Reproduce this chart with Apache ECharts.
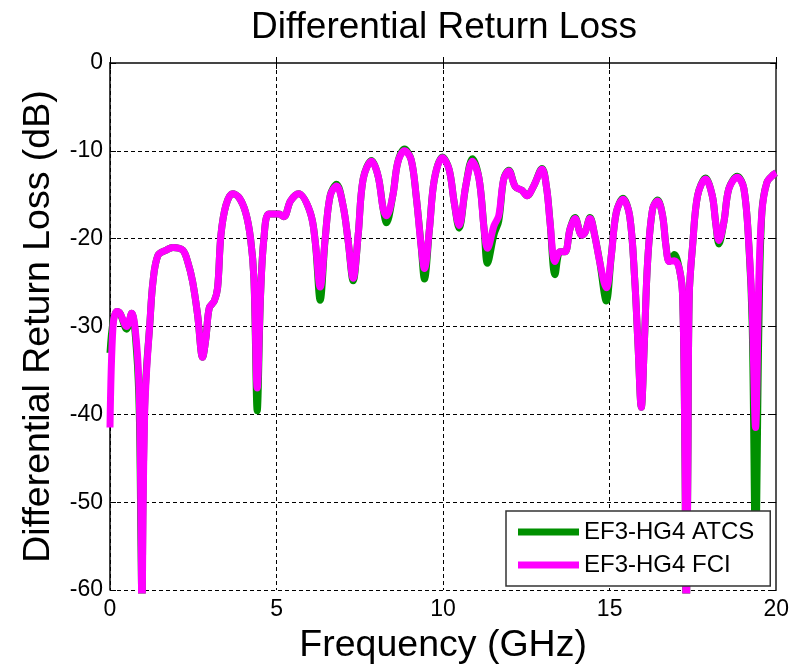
<!DOCTYPE html>
<html>
<head>
<meta charset="utf-8">
<title>Differential Return Loss</title>
<script src="https://cdn.jsdelivr.net/npm/echarts@6/dist/echarts.min.js"></script>
<style>
  html, body { margin: 0; padding: 0; background: #fff; }
  #chart { width: 792px; height: 670px; }
</style>
</head>
<body>
<div id="chart"></div>
<script>
// Frequency sweep points (GHz)
const freq = [
  0.00, 0.09, 0.20, 0.30, 0.50, 0.65, 0.80, 0.88, 0.93, 0.96, 0.99, 1.04, 1.10, 1.19, 1.29,
  1.44, 1.69, 1.89, 2.18, 2.33, 2.48, 2.63, 2.78, 2.88, 2.98, 3.13, 3.23, 3.33, 3.48, 3.68,
  3.87, 4.07, 4.22, 4.32, 4.42, 4.52, 4.62, 4.77, 5.07, 5.22, 5.42, 5.66, 6.01, 6.16, 6.31,
  6.46, 6.61, 6.80, 7.00, 7.15, 7.30, 7.45, 7.60, 7.85, 8.05, 8.20, 8.30, 8.49, 8.64, 8.84,
  9.04, 9.19, 9.34, 9.44, 9.59, 9.74, 9.98, 10.18, 10.33, 10.48, 10.68, 10.88, 11.08, 11.23, 11.33,
  11.53, 11.67, 11.82, 11.97, 12.17, 12.37, 12.52, 12.72, 12.97, 13.11, 13.21, 13.36, 13.51, 13.66, 13.81,
  13.96, 14.16, 14.26, 14.41, 14.55, 14.70, 14.90, 15.05, 15.20, 15.40, 15.60, 15.75, 15.85, 15.95, 16.04,
  16.14, 16.29, 16.44, 16.59, 16.69, 16.79, 16.94, 17.09, 17.19, 17.26, 17.30, 17.35, 17.39, 17.49, 17.64,
  17.88, 18.08, 18.18, 18.28, 18.43, 18.58, 18.83, 19.03, 19.18, 19.28, 19.38, 19.48, 19.57, 19.72, 19.92,
  20.00
];

// EF3-HG4 FCI return loss (dB)
const fci = [
  -41.5, -30.0, -28.3, -28.5, -30.0, -28.5, -32.0, -38.0, -52.0, -65.0, -52.0, -40.0, -35.0, -30.0, -24.9,
  -21.9, -21.3, -21.0, -21.3, -22.6, -24.9, -28.7, -33.5, -31.3, -27.9, -27.1, -25.6, -19.6, -16.2, -14.9,
  -15.3, -17.0, -20.0, -24.5, -37.0, -26.4, -20.0, -17.2, -17.2, -17.5, -15.7, -14.9, -17.0, -20.3, -25.5,
  -20.0, -15.1, -14.0, -16.3, -20.3, -24.5, -19.6, -13.2, -11.2, -12.9, -16.6, -17.4, -15.1, -11.3, -10.0,
  -11.0, -15.1, -20.8, -23.4, -18.9, -13.2, -10.8, -12.1, -15.8, -18.5, -14.0, -11.2, -13.2, -18.9, -21.1,
  -18.5, -17.4, -13.2, -12.3, -14.1, -14.5, -15.1, -14.0, -12.1, -14.3, -18.1, -22.6, -21.5, -21.5, -18.9,
  -17.7, -19.6, -19.3, -17.7, -19.6, -22.6, -25.6, -21.9, -17.0, -15.5, -17.4, -24.5, -32.0, -39.2, -32.0,
  -22.6, -16.6, -15.7, -17.4, -20.8, -22.6, -22.5, -23.4, -26.4, -45.0, -65.0, -45.0, -26.4, -20.8, -15.1,
  -13.2, -15.1, -18.1, -20.2, -18.1, -14.3, -13.0, -14.3, -20.8, -28.3, -41.5, -24.5, -17.0, -13.6, -12.7,
  -12.5
];

// EF3-HG4 ATCS return loss (dB)
const atcs = [
  -33.0, -29.5, -28.3, -28.5, -30.3, -28.5, -33.0, -40.0, -55.0, -62.0, -50.0, -39.0, -34.5, -30.0, -24.9,
  -21.9, -21.3, -21.0, -21.3, -22.6, -24.9, -28.7, -33.5, -31.3, -27.9, -27.1, -25.6, -19.6, -16.2, -14.9,
  -15.3, -17.0, -20.0, -24.5, -39.6, -26.4, -20.0, -17.2, -17.2, -17.5, -15.7, -14.9, -17.0, -20.3, -27.0,
  -20.0, -15.1, -13.8, -16.3, -20.3, -24.8, -19.6, -13.2, -11.1, -12.9, -16.6, -18.2, -15.1, -11.3, -9.8,
  -11.0, -15.1, -20.8, -24.6, -18.9, -13.2, -10.7, -12.1, -15.8, -18.8, -14.0, -10.9, -13.2, -18.9, -22.8,
  -19.5, -18.0, -13.2, -12.2, -14.1, -14.5, -15.1, -14.0, -12.0, -14.3, -18.1, -24.1, -21.5, -21.5, -18.9,
  -17.6, -19.6, -19.3, -17.6, -19.6, -22.6, -27.1, -21.9, -17.0, -15.4, -17.4, -24.5, -32.0, -39.2, -32.0,
  -22.6, -16.6, -15.6, -17.4, -20.8, -22.6, -21.8, -23.4, -26.4, -45.0, -65.0, -45.0, -26.4, -20.8, -15.1,
  -13.1, -15.1, -18.1, -20.6, -18.1, -14.3, -12.9, -14.3, -20.8, -30.0, -56.0, -30.0, -17.0, -13.6, -12.7,
  -12.5
];

// Axis ticks
const xTicks = [0, 5, 10, 15, 20];
const yTicks = [-60, -50, -40, -30, -20, -10, 0];

const seriesNames = ['EF3-HG4 ATCS', 'EF3-HG4 FCI'];
const seriesColors = ['#009000', '#ff00ff'];

const FONT = '"Liberation Sans", Arial, Helvetica, sans-serif';

const chart = echarts.init(document.getElementById('chart'), null, { renderer: 'canvas' });

const xStep = xTicks[1] - xTicks[0];
const yStep = yTicks[1] - yTicks[0];

function baseX(extra) {
  return Object.assign({
    type: 'value',
    min: xTicks[0],
    max: xTicks[xTicks.length - 1],
    interval: xStep
  }, extra);
}
function baseY(extra) {
  return Object.assign({
    type: 'value',
    min: yTicks[0],
    max: yTicks[yTicks.length - 1],
    interval: yStep
  }, extra);
}

const option = {
  backgroundColor: '#ffffff',
  animation: false,
  title: {
    text: 'Differential Return Loss',
    left: 444,
    top: 9,
    textAlign: 'center',
    padding: 0,
    textStyle: { fontFamily: FONT, fontSize: 37, fontWeight: 'normal', color: '#000' }
  },
  grid: { left: 110, right: 11, top: 63, bottom: 76, containLabel: false },
  legend: {
    orient: 'vertical',
    left: 506,
    top: 511,
    data: seriesNames,
    icon: 'rect',
    itemWidth: 61,
    itemHeight: 7,
    itemGap: 9,
    padding: [9, 16, 9, 12],
    borderColor: '#333',
    borderWidth: 1.5,
    borderRadius: 0,
    backgroundColor: '#fff',
    textStyle: { fontFamily: FONT, fontSize: 24, color: '#000' }
  },
  xAxis: [
    baseX({
      position: 'bottom',
      name: 'Frequency (GHz)',
      nameLocation: 'middle',
      nameGap: 37,
      nameTextStyle: { fontFamily: FONT, fontSize: 37.5, color: '#000' },
      axisLine: { show: true, lineStyle: { color: '#000', width: 1.5 } },
      axisTick: { show: true, inside: true, length: 6, lineStyle: { color: '#000' } },
      axisLabel: { fontFamily: FONT, fontSize: 23, color: '#000', margin: 8 },
      splitLine: { show: true, lineStyle: { color: '#000', width: 1, type: [4, 3] } }
    }),
    baseX({
      position: 'top',
      axisLine: { show: true, onZero: false, lineStyle: { color: '#444', width: 2 } },
      axisTick: { show: true, inside: true, length: 6, lineStyle: { color: '#000' } },
      axisLabel: { show: false },
      splitLine: { show: false }
    })
  ],
  yAxis: [
    baseY({
      position: 'left',
      name: 'Differential Return Loss (dB)',
      nameLocation: 'middle',
      nameGap: 52,
      nameTextStyle: { fontFamily: FONT, fontSize: 37.5, color: '#000' },
      axisLine: { show: true, onZero: false, lineStyle: { color: '#000', width: 1.5 } },
      axisTick: { show: true, inside: true, length: 6, lineStyle: { color: '#000' } },
      axisLabel: { fontFamily: FONT, fontSize: 23, color: '#000', margin: 7 },
      splitLine: { show: true, lineStyle: { color: '#000', width: 1, type: [4, 3] } }
    }),
    baseY({
      position: 'right',
      axisLine: { show: true, onZero: false, lineStyle: { color: '#555', width: 2 } },
      axisTick: { show: true, inside: true, length: 6, lineStyle: { color: '#000' } },
      axisLabel: { show: false },
      splitLine: { show: false }
    })
  ],
  series: [
    {
      name: seriesNames[0],
      type: 'line',
      xAxisIndex: 0,
      yAxisIndex: 0,
      data: freq.map((f, i) => [f, atcs[i]]),
      showSymbol: false,
      smooth: 0.35,
      clip: true,
      color: seriesColors[0],
      lineStyle: { color: seriesColors[0], width: 7 },
      z: 2
    },
    {
      name: seriesNames[1],
      type: 'line',
      xAxisIndex: 0,
      yAxisIndex: 0,
      data: freq.map((f, i) => [f, fci[i]]),
      showSymbol: false,
      smooth: 0.35,
      clip: true,
      color: seriesColors[1],
      lineStyle: { color: seriesColors[1], width: 7 },
      z: 3
    }
  ]
};

chart.setOption(option);
</script>
</body>
</html>
